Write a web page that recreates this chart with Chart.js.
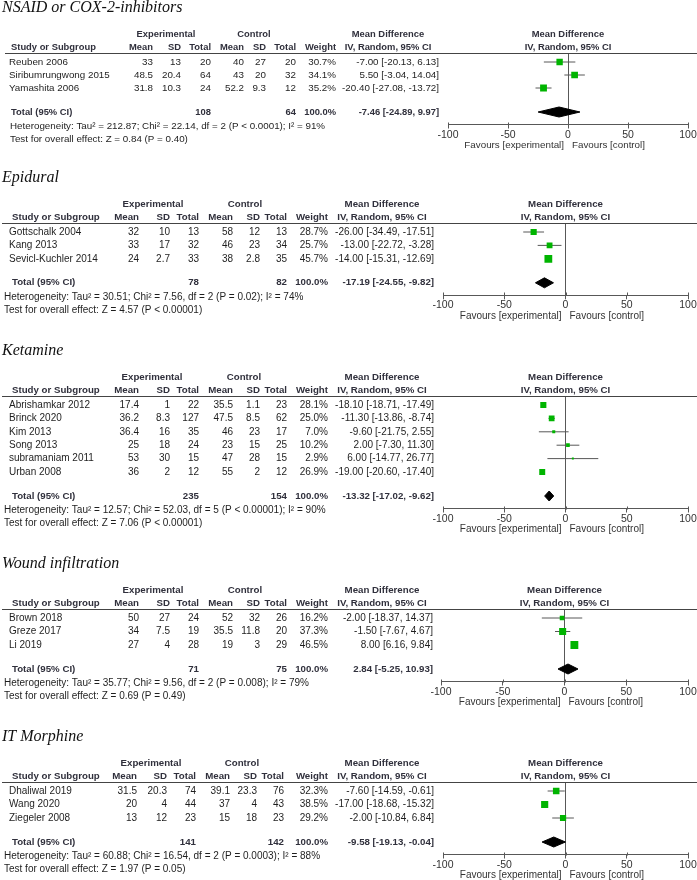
<!DOCTYPE html>
<html>
<head>
<meta charset="utf-8">
<script src="https://cdn.jsdelivr.net/npm/chart.js@4.4.1/dist/chart.umd.min.js"></script>
<style>
  html, body { margin: 0; padding: 0; background: #fff; }
  body { width: 697px; height: 880px; position: relative; overflow: hidden; }
  .panel { position: absolute; left: 0; width: 697px; }
  canvas { display: block; }
</style>
</head>
<body>
<script>
// ---------------- DATA ----------------
// NSAID or COX-2-inhibitors
const nsaidTitle = 'NSAID or COX-2-inhibitors';
const nsaidStudies = ['Reuben 2006', 'Siribumrungwong 2015', 'Yamashita 2006'];
const nsaidExpMean = [33, 48.5, 31.8];
const nsaidExpSD = [13, 20.4, 10.3];
const nsaidExpN = [20, 64, 24];
const nsaidCtlMean = [40, 43, 52.2];
const nsaidCtlSD = [27, 20, 9.3];
const nsaidCtlN = [20, 32, 12];
const nsaidWeight = [30.7, 34.1, 35.2];
const nsaidMD = [-7.00, 5.50, -20.40];
const nsaidLo = [-20.13, -3.04, -27.08];
const nsaidHi = [6.13, 14.04, -13.72];
const nsaidTotalN = [108, 64];
const nsaidPooled = [-7.46, -24.89, 9.97];
const nsaidHet = [212.87, 22.14, 2, '< 0.0001', 91];
const nsaidZ = [0.84, '= 0.40'];

// Epidural
const epiTitle = 'Epidural';
const epiStudies = ['Gottschalk 2004', 'Kang 2013', 'Sevicl-Kuchler 2014'];
const epiExpMean = [32, 33, 24];
const epiExpSD = [10, 17, 2.7];
const epiExpN = [13, 32, 33];
const epiCtlMean = [58, 46, 38];
const epiCtlSD = [12, 23, 2.8];
const epiCtlN = [13, 34, 35];
const epiWeight = [28.7, 25.7, 45.7];
const epiMD = [-26.00, -13.00, -14.00];
const epiLo = [-34.49, -22.72, -15.31];
const epiHi = [-17.51, -3.28, -12.69];
const epiTotalN = [78, 82];
const epiPooled = [-17.19, -24.55, -9.82];
const epiHet = [30.51, 7.56, 2, '= 0.02', 74];
const epiZ = [4.57, '< 0.00001'];

// Ketamine
const ketTitle = 'Ketamine';
const ketStudies = ['Abrishamkar 2012', 'Brinck 2020', 'Kim 2013', 'Song 2013', 'subramaniam 2011', 'Urban 2008'];
const ketExpMean = [17.4, 36.2, 36.4, 25, 53, 36];
const ketExpSD = [1, 8.3, 16, 18, 30, 2];
const ketExpN = [22, 127, 35, 24, 15, 12];
const ketCtlMean = [35.5, 47.5, 46, 23, 47, 55];
const ketCtlSD = [1.1, 8.5, 23, 15, 28, 2];
const ketCtlN = [23, 62, 17, 25, 15, 12];
const ketWeight = [28.1, 25.0, 7.0, 10.2, 2.9, 26.9];
const ketMD = [-18.10, -11.30, -9.60, 2.00, 6.00, -19.00];
const ketLo = [-18.71, -13.86, -21.75, -7.30, -14.77, -20.60];
const ketHi = [-17.49, -8.74, 2.55, 11.30, 26.77, -17.40];
const ketTotalN = [235, 154];
const ketPooled = [-13.32, -17.02, -9.62];
const ketHet = [12.57, 52.03, 5, '< 0.00001', 90];
const ketZ = [7.06, '< 0.00001'];

// Wound infiltration
const woundTitle = 'Wound infiltration';
const woundStudies = ['Brown 2018', 'Greze 2017', 'Li 2019'];
const woundExpMean = [50, 34, 27];
const woundExpSD = [27, 7.5, 4];
const woundExpN = [24, 19, 28];
const woundCtlMean = [52, 35.5, 19];
const woundCtlSD = [32, 11.8, 3];
const woundCtlN = [26, 20, 29];
const woundWeight = [16.2, 37.3, 46.5];
const woundMD = [-2.00, -1.50, 8.00];
const woundLo = [-18.37, -7.67, 6.16];
const woundHi = [14.37, 4.67, 9.84];
const woundTotalN = [71, 75];
const woundPooled = [2.84, -5.25, 10.93];
const woundHet = [35.77, 9.56, 2, '= 0.008', 79];
const woundZ = [0.69, '= 0.49'];

// IT Morphine
const itmTitle = 'IT Morphine';
const itmStudies = ['Dhaliwal 2019', 'Wang 2020', 'Ziegeler 2008'];
const itmExpMean = [31.5, 20, 13];
const itmExpSD = [20.3, 4, 12];
const itmExpN = [74, 44, 23];
const itmCtlMean = [39.1, 37, 15];
const itmCtlSD = [23.3, 4, 18];
const itmCtlN = [76, 43, 23];
const itmWeight = [32.3, 38.5, 29.2];
const itmMD = [-7.60, -17.00, -2.00];
const itmLo = [-14.59, -18.68, -10.84];
const itmHi = [-0.61, -15.32, 6.84];
const itmTotalN = [141, 142];
const itmPooled = [-9.58, -19.13, -0.04];
const itmHet = [60.88, 16.54, 2, '= 0.0003', 88];
const itmZ = [1.97, '= 0.05'];

const axisTicks = [-100, -50, 0, 50, 100];
const favoursLabels = ['Favours [experimental]', 'Favours [control]'];
const totalWeightLabel = '100.0%';

// ---------------- TABLES BUILT FROM DATA ----------------
function mk(title, studies, em, es, en, cm, cs, cn, w, md, lo, hi, tn, pooled, het, z) {
  return { title, studies, em, es, en, cm, cs, cn, w, md, lo, hi, tn, pooled, het, z };
}
const panels = [
  mk(nsaidTitle, nsaidStudies, nsaidExpMean, nsaidExpSD, nsaidExpN, nsaidCtlMean, nsaidCtlSD, nsaidCtlN, nsaidWeight, nsaidMD, nsaidLo, nsaidHi, nsaidTotalN, nsaidPooled, nsaidHet, nsaidZ),
  mk(epiTitle, epiStudies, epiExpMean, epiExpSD, epiExpN, epiCtlMean, epiCtlSD, epiCtlN, epiWeight, epiMD, epiLo, epiHi, epiTotalN, epiPooled, epiHet, epiZ),
  mk(ketTitle, ketStudies, ketExpMean, ketExpSD, ketExpN, ketCtlMean, ketCtlSD, ketCtlN, ketWeight, ketMD, ketLo, ketHi, ketTotalN, ketPooled, ketHet, ketZ),
  mk(woundTitle, woundStudies, woundExpMean, woundExpSD, woundExpN, woundCtlMean, woundCtlSD, woundCtlN, woundWeight, woundMD, woundLo, woundHi, woundTotalN, woundPooled, woundHet, woundZ),
  mk(itmTitle, itmStudies, itmExpMean, itmExpSD, itmExpN, itmCtlMean, itmCtlSD, itmCtlN, itmWeight, itmMD, itmLo, itmHi, itmTotalN, itmPooled, itmHet, itmZ)
];

// ---------------- LAYOUT ----------------
const colsA = [153, 181, 211, 244, 266, 296, 336];
const colsB = [139, 170, 199, 233, 260, 287, 328];
const layouts = [
  { L: 53,  pitch: 13,   fs: 9.8, fb: 9.4, cols: colsA, mdRight: 439, mdHead: 388, expC: 166, ctlC: 254, plotLeft: 448, hetLeft: 10, headLeft: 11, nameLeft: 9, lineLeft: 5 },
  { L: 223, pitch: 13.4, fs: 10,  fb: 9.7, cols: colsB, mdRight: 434, mdHead: 382, expC: 153, ctlC: 245, plotLeft: 443, hetLeft: 4, headLeft: 12, nameLeft: 9, lineLeft: 2 },
  { L: 396, pitch: 13.4, fs: 10,  fb: 9.7, cols: colsB, mdRight: 434, mdHead: 382, expC: 152, ctlC: 244, plotLeft: 443, hetLeft: 4, headLeft: 12, nameLeft: 9, lineLeft: 2 },
  { L: 609, pitch: 13.5, fs: 10,  fb: 9.7, cols: colsB, mdRight: 433, mdHead: 382, expC: 153, ctlC: 245, plotLeft: 441, hetLeft: 4, headLeft: 12, nameLeft: 9, lineLeft: 2 },
  { L: 782, pitch: 13.5, fs: 10,  fb: 9.7, cols: [137, 167, 196, 230, 257, 284, 328], mdRight: 434, mdHead: 382, expC: 151, ctlC: 242, plotLeft: 443, hetLeft: 4, headLeft: 12, nameLeft: 9, lineLeft: 2 }
];

const SANS = '"Liberation Sans", Arial, Helvetica, sans-serif';
const SERIF = '"Liberation Serif", "Times New Roman", serif';
const HEAD = '#30303c';
const BODY = '#1e1e1e';
const GREEN = '#00b400';
const LINEC = '#585858';

Chart.defaults.font.family = SANS;

function ci(md, lo, hi) {
  return md.toFixed(2) + ' [' + lo.toFixed(2) + ', ' + hi.toFixed(2) + ']';
}

function makePanel(p, lay) {
  const n = p.studies.length;
  const pitch = lay.pitch;
  const totalIdx = (n - 1) + 24 / pitch;
  const yMin = -9 / pitch;
  const yMax = totalIdx + 12.5 / pitch;
  const chartH = (yMax - yMin) * pitch;
  const TOP = 56, AXH = 34;
  const H = Math.ceil(TOP + chartH + AXH);
  const padBottom = H - TOP - chartH - AXH;

  const div = document.createElement('div');
  div.className = 'panel';
  div.style.top = (lay.L - TOP) + 'px';
  div.style.height = H + 'px';
  const cv = document.createElement('canvas');
  cv.width = 697; cv.height = H;
  cv.style.width = '697px'; cv.style.height = H + 'px';
  div.appendChild(cv);
  document.body.appendChild(div);

  const datasets = [];
  // squares (drawn on top: index 0)
  datasets.push({
    data: p.md.map((m, i) => ({ x: m, y: i })),
    showLine: false,
    pointStyle: 'rect',
    pointRadius: p.w.map(w => (1.15 * Math.sqrt(w)) / Math.SQRT2),
    backgroundColor: GREEN,
    borderColor: GREEN,
    borderWidth: 0
  });
  // confidence intervals
  p.md.forEach((m, i) => {
    datasets.push({
      data: [{ x: p.lo[i], y: i }, { x: p.hi[i], y: i }],
      showLine: true,
      pointRadius: 0,
      borderColor: LINEC,
      borderWidth: 1,
      fill: false
    });
  });
  // pooled diamond
  const hh = 5 / pitch;
  datasets.push({
    data: [
      { x: p.pooled[1], y: totalIdx },
      { x: p.pooled[0], y: totalIdx - hh },
      { x: p.pooled[2], y: totalIdx },
      { x: p.pooled[0], y: totalIdx + hh },
      { x: p.pooled[1], y: totalIdx }
    ],
    showLine: true,
    pointRadius: 0,
    borderColor: '#000',
    backgroundColor: '#000',
    borderWidth: 1,
    fill: 'shape',
    tension: 0
  });

  const textPlugin = {
    id: 'forestText',
    afterDraw(chart) {
      const ctx = chart.ctx;
      const xs = chart.scales.x, ys = chart.scales.y;
      const ca = chart.chartArea;
      const L = ca.top;
      const bold = 'bold ' + lay.fb + 'px ' + SANS;
      const reg = lay.fs + 'px ' + SANS;
      ctx.save();
      ctx.textBaseline = 'middle';
      // title
      ctx.fillStyle = '#111';
      ctx.font = 'italic 16px ' + SERIF;
      ctx.textAlign = 'left';
      ctx.fillText(p.title, 2, L - 45);
      // group headers
      ctx.fillStyle = HEAD;
      ctx.font = bold;
      ctx.textAlign = 'center';
      ctx.fillText('Experimental', lay.expC, L - 19);
      ctx.fillText('Control', lay.ctlC, L - 19);
      ctx.fillText('Mean Difference', lay.mdHead, L - 19);
      ctx.fillText('IV, Random, 95% CI', lay.mdHead, L - 6);
      const pc = (ca.left + ca.right) / 2;
      ctx.fillText('Mean Difference', pc, L - 19);
      ctx.fillText('IV, Random, 95% CI', pc, L - 6);
      ctx.textAlign = 'left';
      ctx.fillText('Study or Subgroup', lay.headLeft, L - 6);
      ctx.textAlign = 'right';
      ['Mean', 'SD', 'Total', 'Mean', 'SD', 'Total', 'Weight'].forEach((t, k) => ctx.fillText(t, lay.cols[k], L - 6));
      // header underline
      ctx.strokeStyle = '#444';
      ctx.lineWidth = 1;
      ctx.beginPath();
      const ly = Math.round(L) + 0.5;
      ctx.moveTo(lay.lineLeft, ly);
      ctx.lineTo(697, ly);
      ctx.stroke();
      // study rows
      ctx.fillStyle = BODY;
      ctx.font = reg;
      p.studies.forEach((s, i) => {
        const y = ys.getPixelForValue(i);
        ctx.textAlign = 'left';
        ctx.fillText(s, lay.nameLeft, y);
        ctx.textAlign = 'right';
        const vals = [String(p.em[i]), String(p.es[i]), String(p.en[i]), String(p.cm[i]), String(p.cs[i]), String(p.cn[i]), p.w[i].toFixed(1) + '%'];
        vals.forEach((v, k) => ctx.fillText(v, lay.cols[k], y));
        ctx.fillText(ci(p.md[i], p.lo[i], p.hi[i]), lay.mdRight, y);
      });
      // total row
      const yt = ys.getPixelForValue(totalIdx);
      ctx.fillStyle = HEAD;
      ctx.font = bold;
      ctx.textAlign = 'left';
      ctx.fillText('Total (95% CI)', lay.headLeft, yt);
      ctx.textAlign = 'right';
      ctx.fillText(String(p.tn[0]), lay.cols[2], yt);
      ctx.fillText(String(p.tn[1]), lay.cols[5], yt);
      ctx.fillText(totalWeightLabel, lay.cols[6], yt);
      ctx.fillText(ci(p.pooled[0], p.pooled[1], p.pooled[2]), lay.mdRight, yt);
      // heterogeneity & overall effect
      ctx.fillStyle = BODY;
      ctx.font = reg;
      ctx.textAlign = 'left';
      const het = 'Heterogeneity: Tau\u00b2 = ' + p.het[0].toFixed(2) + '; Chi\u00b2 = ' + p.het[1].toFixed(2) +
        ', df = ' + p.het[2] + ' (P ' + p.het[3] + '); I\u00b2 = ' + p.het[4] + '%';
      ctx.fillText(het, lay.hetLeft, yt + 14.5);
      ctx.fillText('Test for overall effect: Z = ' + p.z[0].toFixed(2) + ' (P ' + p.z[1] + ')', lay.hetLeft, yt + 27);
      // upward part of axis ticks
      const ay = Math.round(ca.bottom) + 0.5;
      ctx.strokeStyle = LINEC;
      ctx.beginPath();
      xs.ticks.forEach(t => {
        const x = Math.round(xs.getPixelForValue(t.value)) + 0.5;
        ctx.moveTo(x, ay - 3);
        ctx.lineTo(x, ay);
      });
      ctx.stroke();
      // favours labels
      const x0 = xs.getPixelForValue(0);
      ctx.fillStyle = '#333';
      ctx.font = reg;
      ctx.textAlign = 'right';
      ctx.fillText(favoursLabels[0], x0 - 4, ca.bottom + 20.5);
      ctx.textAlign = 'left';
      ctx.fillText(favoursLabels[1], x0 + 4, ca.bottom + 20.5);
      ctx.restore();
    }
  };

  new Chart(cv, {
    type: 'scatter',
    data: { datasets },
    options: {
      responsive: false,
      animation: false,
      devicePixelRatio: 1,
      events: [],
      layout: { autoPadding: false, padding: { top: TOP, left: lay.plotLeft, right: 697 - 688, bottom: padBottom } },
      plugins: { legend: { display: false }, tooltip: { enabled: false } },
      scales: {
        x: {
          type: 'linear',
          min: axisTicks[0],
          max: axisTicks[axisTicks.length - 1],
          afterBuildTicks: s => { s.ticks = axisTicks.map(v => ({ value: v })); },
          afterFit: s => { s.height = AXH; },
          ticks: {
            color: '#333',
            font: { size: 10.5, family: SANS },
            padding: 0,
            maxRotation: 0,
            autoSkip: false,
            callback: v => String(v)
          },
          grid: {
            drawOnChartArea: true,
            color: c => (c.tick && c.tick.value === 0) ? LINEC : 'rgba(0,0,0,0)',
            tickColor: LINEC,
            tickLength: 4,
            lineWidth: 1
          },
          border: { display: true, color: LINEC, width: 1 }
        },
        y: { type: 'linear', min: yMin, max: yMax, reverse: true, display: false }
      }
    },
    plugins: [textPlugin]
  });
}

panels.forEach((p, i) => makePanel(p, layouts[i]));
</script>
</body>
</html>
